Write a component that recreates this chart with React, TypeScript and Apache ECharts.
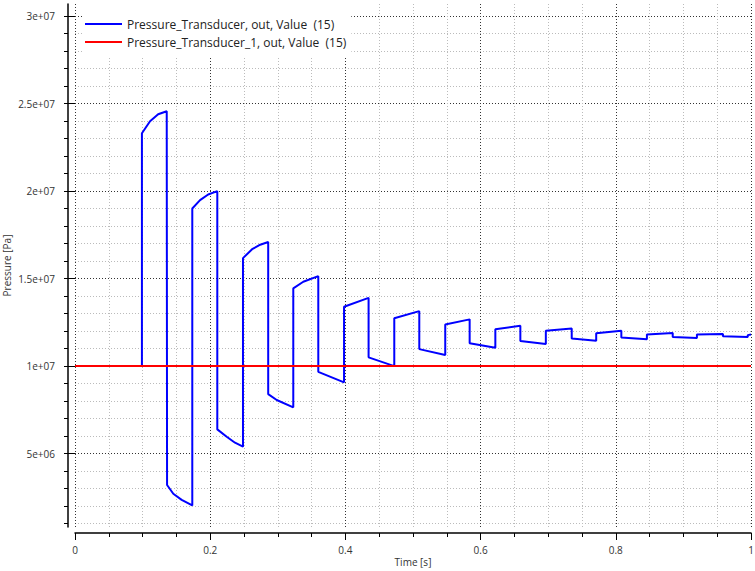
import React, { useEffect, useRef } from "react";
import * as echarts from "echarts";

// Time [s] samples of the blue trace
const timeValues: number[] = [
  0.099,
  0.099, 0.111, 0.123, 0.1357,
  0.1362, 0.1454, 0.1578, 0.1735,
  0.1735, 0.185, 0.197, 0.2105,
  0.2105, 0.2244, 0.2367, 0.2485,
  0.2485, 0.262, 0.274, 0.2858,
  0.2858, 0.2984, 0.3229,
  0.3229, 0.3377, 0.3599,
  0.3599, 0.398,
  0.398, 0.4343,
  0.4343, 0.4723,
  0.4723, 0.5093,
  0.5093, 0.5477,
  0.5477, 0.5838,
  0.5838, 0.6218,
  0.6218, 0.6588,
  0.6588, 0.6965,
  0.6965, 0.7348,
  0.7348, 0.771,
  0.771, 0.8082,
  0.8082, 0.846,
  0.846, 0.8842,
  0.8842, 0.92,
  0.92, 0.9585,
  0.9585, 0.9952,
  0.9952, 1.0,
];

// Pressure [Pa] of the blue trace (Pressure_Transducer)
const transducerValues: number[] = [
  1.0e7,
  2.331e7, 2.40e7, 2.44e7, 2.457e7,
  3.2e6, 2.7e6, 2.35e6, 2.03e6,
  1.901e7, 1.949e7, 1.981e7, 2.0e7,
  6.38e6, 5.96e6, 5.62e6, 5.39e6,
  1.617e7, 1.668e7, 1.694e7, 1.709e7,
  8.4e6, 8.06e6, 7.64e6,
  1.444e7, 1.482e7, 1.514e7,
  9.67e6, 9.07e6,
  1.339e7, 1.39e7,
  1.05e7, 1.0e7,
  1.273e7, 1.314e7,
  1.097e7, 1.063e7,
  1.238e7, 1.267e7,
  1.13e7, 1.105e7,
  1.211e7, 1.23e7,
  1.143e7, 1.126e7,
  1.202e7, 1.215e7,
  1.158e7, 1.145e7,
  1.187e7, 1.202e7,
  1.164e7, 1.154e7,
  1.181e7, 1.189e7,
  1.166e7, 1.16e7,
  1.181e7, 1.183e7,
  1.17e7, 1.166e7,
  1.177e7, 1.18e7,
];

// Red reference trace (Pressure_Transducer_1)
const referenceTimes: number[] = [0, 1];
const referenceValues: number[] = [1.0e7, 1.0e7];

const seriesNames: string[] = [
  "Pressure_Transducer, out, Value  (15)",
  "Pressure_Transducer_1, out, Value  (15)",
];

const yMajorTicks: number[] = [5e6, 1e7, 1.5e7, 2e7, 2.5e7, 3e7];
const yMinorTicks: number[] = [
  1e6, 2e6, 3e6, 4e6, 5e6, 6e6, 7e6, 8e6, 9e6, 1e7,
  1.1e7, 1.2e7, 1.3e7, 1.4e7, 1.5e7, 1.6e7, 1.7e7, 1.8e7, 1.9e7, 2e7,
  2.1e7, 2.2e7, 2.3e7, 2.4e7, 2.5e7, 2.6e7, 2.7e7, 2.8e7, 2.9e7, 3e7,
];

const FONT = "'Open Sans', 'DejaVu Sans', sans-serif";

function fmtExp(v: number): string {
  const s = v.toExponential();
  return s.replace(/e([+-])(\d)$/, "e$10$2");
}

export default function App() {
  const ref = useRef<HTMLDivElement>(null);
  useEffect(() => {
    if (!ref.current) return;
    const chart = echarts.init(ref.current, null, { renderer: "svg" });
    const blueData = timeValues.map((t, i) => [t, transducerValues[i]]);
    const redData = referenceTimes.map((t, i) => [t, referenceValues[i]]);
    const majorLine = { show: true, lineStyle: { color: "#333", type: [1, 2], width: 1 } };
    const minorLine = { show: true, lineStyle: { color: "#bbb", type: [1, 2], width: 1 } };
    chart.setOption({
      animation: false,
      backgroundColor: "#fff",
      grid: {
        left: 75,
        right: 4,
        top: 4,
        bottom: 44,
        containLabel: false,
        outerBoundsMode: "none",
      },
      legend: {
        show: true,
        orient: "vertical",
        left: 82,
        top: 3,
        padding: [14, 5, 7, 3],
        backgroundColor: "#fff",
        itemWidth: 37,
        itemHeight: 2,
        itemGap: 4,
        icon: "rect",
        textStyle: { fontFamily: FONT, fontSize: 12, color: "#222", lineHeight: 14 },
        data: seriesNames,
      },
      xAxis: {
        type: "value",
        min: 0,
        max: 1,
        interval: 0.2,
        offset: 6,
        name: "Time [s]",
        nameLocation: "middle",
        nameGap: 24,
        nameMoveOverlap: false,
        nameTextStyle: { fontFamily: FONT, fontSize: 10, color: "#333" },
        axisLine: { show: true, onZero: false, lineStyle: { color: "#000", width: 1.5 } },
        axisTick: { show: true, length: 7, lineStyle: { color: "#000" } },
        minorTick: { show: true, splitNumber: 4, length: 4, lineStyle: { color: "#000" } },
        axisLabel: { fontFamily: FONT, fontSize: 10, color: "#333", margin: 12 },
        splitLine: majorLine,
        minorSplitLine: minorLine,
      },
      yAxis: [
        {
          type: "value",
          min: 800000,
          max: 30700000,
          offset: 7,
          position: "left",
          axisLine: { show: true, onZero: false, lineStyle: { color: "#000", width: 1.5 } },
          axisTick: { show: true, length: 4, customValues: yMinorTicks, lineStyle: { color: "#000" } },
          axisLabel: { show: false },
          splitLine: minorLine,
        },
        {
          type: "value",
          min: 800000,
          max: 30700000,
          offset: 7,
          position: "left",
          name: "Pressure [Pa]",
          nameLocation: "middle",
          nameGap: 56,
          nameMoveOverlap: false,
          nameTextStyle: { fontFamily: FONT, fontSize: 10, color: "#333" },
          axisLine: { show: false },
          axisTick: { show: true, length: 7, customValues: yMajorTicks, lineStyle: { color: "#000" } },
          axisLabel: {
            show: true,
            customValues: yMajorTicks,
            fontFamily: FONT,
            fontSize: 10,
            color: "#333",
            margin: 13,
            formatter: (v: number) => fmtExp(v),
          },
          splitLine: majorLine,
        },
      ],
      series: [
        {
          name: seriesNames[0],
          type: "line",
          data: blueData,
          yAxisIndex: 0,
          showSymbol: false,
          symbol: "none",
          lineStyle: { color: "#0000ff", width: 2 },
          itemStyle: { color: "#0000ff" },
          z: 3,
        },
        {
          name: seriesNames[1],
          type: "line",
          data: redData,
          yAxisIndex: 0,
          showSymbol: false,
          symbol: "none",
          lineStyle: { color: "#ff0000", width: 2 },
          itemStyle: { color: "#ff0000" },
          z: 4,
        },
      ],
    });
    return () => chart.dispose();
  }, []);
  return (
    <div
      ref={ref}
      style={{ position: "absolute", left: 0, top: 0, width: 755, height: 571 }}
    />
  );
}
